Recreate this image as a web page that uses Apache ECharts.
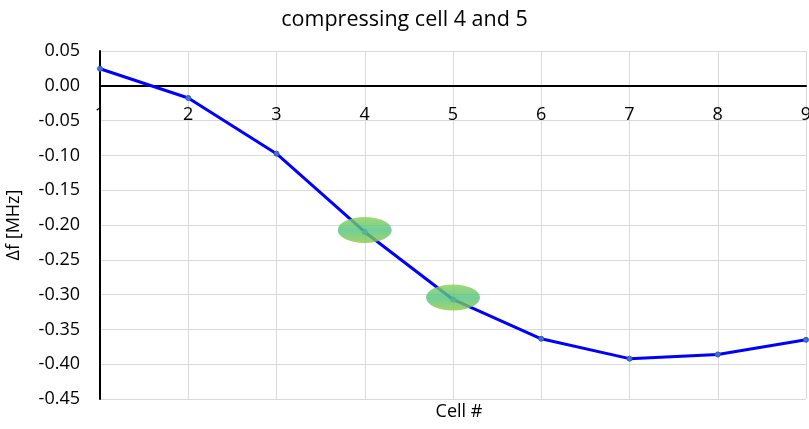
<!DOCTYPE html>
<html>
<head>
<meta charset="utf-8">
<script src="https://cdn.jsdelivr.net/npm/echarts@6/dist/echarts.min.js"></script>
<style>
  html, body { margin: 0; padding: 0; background: #ffffff; }
  #chart { width: 809px; height: 429px; }
</style>
</head>
<body>
<div id="chart"></div>
<script>
// Frequency shift per cell after compressing cells 4 and 5
const cells = [1, 2, 3, 4, 5, 6, 7, 8, 9];
const deltaF = [0.0245, -0.0175, -0.0975, -0.210, -0.307, -0.3635, -0.392, -0.386, -0.365];
const highlightedCells = [4, 5];
const yTicks = { min: -0.45, max: 0.05, step: 0.05 };

const fontFamily = '"Open Sans", "Noto Sans", sans-serif';
const chart = echarts.init(document.getElementById('chart'), null, { renderer: 'canvas' });

const lineData = cells.map((c, i) => [c, deltaF[i]]);
const highlightData = highlightedCells.map(c => ({ coord: [c, deltaF[cells.indexOf(c)]] }));

// Plot box; the category axis sits on the zero line
const gridBox = { left: 100, right: 3, top: 51, bottom: 30 };
const plotHeight = 429 - gridBox.top - gridBox.bottom;
const zeroOffset = -plotHeight * (0 - yTicks.min) / (yTicks.max - yTicks.min);

chart.setOption({
  animation: false,
  backgroundColor: '#ffffff',
  title: [
    {
      text: 'compressing cell 4 and 5',
      left: 'center',
      top: 4,
      textStyle: { fontFamily, fontSize: 21.5, fontWeight: 'normal', color: '#000000' }
    },
    {
      text: 'Cell #',
      left: 454,
      top: 398,
      textAlign: 'center',
      textStyle: { fontFamily, fontSize: 18, fontWeight: 'normal', color: '#000000' }
    }
  ],
  grid: Object.assign({ containLabel: false, outerBoundsMode: 'none' }, gridBox),
  xAxis: {
    type: 'value',
    min: cells[0],
    max: cells[cells.length - 1],
    interval: 1,
    offset: zeroOffset,
    axisLine: { onZero: false, lineStyle: { color: '#000000', width: 2 } },
    axisTick: { show: false },
    axisLabel: {
      margin: 20,
      fontFamily, fontSize: 18, color: '#000000',
      showMinLabel: true, showMaxLabel: true, hideOverlap: false
    },
    splitLine: { show: true, lineStyle: { color: '#d9d9d9', width: 1 } }
  },
  yAxis: {
    type: 'value',
    name: 'Δf [MHz]',
    nameLocation: 'middle',
    nameGap: 77,
    nameTextStyle: { fontFamily, fontSize: 18, color: '#000000' },
    min: yTicks.min,
    max: yTicks.max,
    interval: yTicks.step,
    axisLine: { show: true, onZero: false, lineStyle: { color: '#000000', width: 2 } },
    axisTick: { show: false },
    axisLabel: {
      margin: 20,
      fontFamily, fontSize: 18, color: '#000000',
      formatter: v => v.toFixed(2)
    },
    splitLine: { show: true, lineStyle: { color: '#d9d9d9', width: 1 } }
  },
  series: [
    {
      type: 'line',
      data: lineData,
      symbol: 'circle',
      symbolSize: 5,
      showSymbol: true,
      lineStyle: { color: '#0000ff', width: 3 },
      itemStyle: { color: '#4472c4', borderColor: '#2f55d4', borderWidth: 1 },
      z: 2,
      markPoint: {
        symbol: 'circle',
        symbolSize: [54, 26],
        symbolOffset: [0, -2],
        label: { show: false },
        itemStyle: {
          opacity: 0.82,
          color: {
            type: 'linear', x: 0, y: 0, x2: 0, y2: 1,
            colorStops: [
              { offset: 0, color: '#8fd04f' },
              { offset: 0.5, color: '#52c485' },
              { offset: 1, color: '#8fca44' }
            ]
          }
        },
        data: highlightData,
        z: 5
      }
    }
  ]
});
</script>
</body>
</html>
